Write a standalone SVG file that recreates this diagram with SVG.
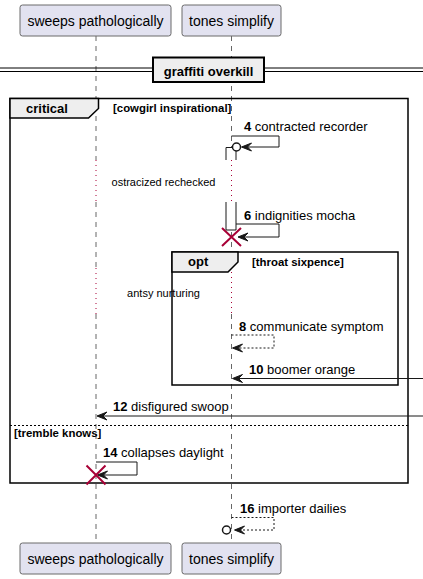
<svg xmlns="http://www.w3.org/2000/svg" width="423" height="579" viewBox="0 0 423 579">
<defs>
<style>
text{font-family:"Liberation Sans",Arial,sans-serif;fill:#000}
.pbox{fill:#E2E2F0;stroke:#6b6b6b;stroke-width:1}
.ptxt{font-size:14px;text-anchor:middle}
.life{stroke:#666;stroke-width:1;stroke-dasharray:5,5;fill:none}
.delay{stroke:#A80036;stroke-width:1;stroke-dasharray:1,4;fill:none}
.dtxt{font-size:11px;text-anchor:middle}
.msg{fill:none;stroke:#181818;stroke-width:1}
.dash{stroke-dasharray:2,2}
.head{fill:#181818;stroke:#181818;stroke-width:1}
.mtxt{font-size:13px}
.num{font-weight:bold}
.frame{fill:none;stroke:#000;stroke-width:1.5}
.tab{fill:#EEEEEE;stroke:#000;stroke-width:1.5}
.ftitle{font-size:13px;font-weight:bold}
.fcond{font-size:11.4px;font-weight:bold}
.kill{stroke:#A80036;stroke-width:2}
.act{fill:#fff;stroke:#181818;stroke-width:1}
.lost{fill:#fff;stroke:#181818;stroke-width:1.5}
</style>
</defs>

<g id="lifelines">
<path class="life" d="M96,36V160M96,202V268M96,314V543"/>
<path class="life" d="M231.5,36V160M231.5,202V272M231.5,314V543"/>
<path class="delay" d="M96,160V202M231.5,160V202M96,268V314M231.5,272V314"/>
</g>

<g id="delay-1"><text class="dtxt" x="163.5" y="186">ostracized rechecked</text></g>
<g id="delay-2"><text class="dtxt" x="163.5" y="297">antsy nurturing</text></g>

<g id="participant-sweeps-top"><rect class="pbox" x="20" y="5" width="151" height="31" rx="2.5"/><text class="ptxt" x="95.5" y="25.5">sweeps pathologically</text></g>
<g id="participant-tones-top"><rect class="pbox" x="182" y="5" width="99" height="31" rx="2.5"/><text class="ptxt" x="231.5" y="25.5">tones simplify</text></g>
<g id="participant-sweeps-bottom"><rect class="pbox" x="20" y="543" width="151" height="31" rx="2.5"/><text class="ptxt" x="95.5" y="563.5">sweeps pathologically</text></g>
<g id="participant-tones-bottom"><rect class="pbox" x="182" y="543" width="99" height="31" rx="2.5"/><text class="ptxt" x="231.5" y="563.5">tones simplify</text></g>

<g id="separator">
<path d="M0,68H423M0,71.5H423" stroke="#000" stroke-width="1"/>
<rect x="153" y="57.5" width="111" height="24.5" fill="#EEEEEE" stroke="#000" stroke-width="2"/>
<text class="ftitle" x="208.5" y="75.5" text-anchor="middle">graffiti overkill</text>
</g>

<g id="frame-critical">
<rect class="frame" x="10" y="98.5" width="398" height="384.5"/>
<path class="tab" d="M10,98.5H98.5V108.5L88.5,118H10Z"/>
<text class="ftitle" x="26" y="113">critical</text>
<text class="fcond" x="113" y="112">[cowgirl inspirational]</text>
<path d="M10,425.5H408" stroke="#000" stroke-width="1" stroke-dasharray="2,2"/>
<text class="fcond" x="14" y="437">[tremble knows]</text>
</g>

<g id="frame-opt">
<rect class="frame" x="172" y="252" width="226" height="133"/>
<path class="tab" d="M172,252H238V262L228,272H172Z"/>
<text class="ftitle" x="188" y="266">opt</text>
<text class="fcond" x="252" y="266">[throat sixpence]</text>
</g>

<g id="activation">
<path class="act" d="M226,160V147.5H236V160"/>
<path class="act" d="M226,202V230H236V202"/>
</g>

<g id="connectors">
<g id="msg-4">
<path class="msg" d="M231.5,136H279V147H242"/>
<path class="head" d="M241.5,147L251.5,143L247.5,147L251.5,151Z"/>
<circle class="lost" cx="236.5" cy="147" r="4"/>
<text class="mtxt" x="244" y="131"><tspan class="num">4</tspan> contracted recorder</text>
</g>
<g id="msg-6">
<path class="msg" d="M236,224H279V237H240"/>
<path class="head" d="M238,237L248,233L244,237L248,241Z"/>
<text class="mtxt" x="244" y="220"><tspan class="num">6</tspan> indignities mocha</text>
<path class="kill" d="M222,228L241,246M222,246L241,228"/>
</g>
<g id="msg-8">
<path class="msg dash" d="M231.5,335H274V348H234"/>
<path class="head" d="M232.5,348L242.5,344L238.5,348L242.5,352Z"/>
<text class="mtxt" x="239" y="331"><tspan class="num">8</tspan> communicate symptom</text>
</g>
<g id="msg-10">
<path class="msg" d="M423,378.5H234"/>
<path class="head" d="M232.5,378.5L242.5,374.5L238.5,378.5L242.5,382.5Z"/>
<text class="mtxt" x="249" y="374"><tspan class="num">10</tspan> boomer orange</text>
</g>
<g id="msg-12">
<path class="msg" d="M423,416H98"/>
<path class="head" d="M97,416L107,412L103,416L107,420Z"/>
<text class="mtxt" x="113" y="411"><tspan class="num">12</tspan> disfigured swoop</text>
</g>
<g id="msg-14">
<path class="msg" d="M96,462H137V475H99"/>
<path class="head" d="M97.5,475L107.5,471L103.5,475L107.5,479Z"/>
<text class="mtxt" x="103" y="456.5"><tspan class="num">14</tspan> collapses daylight</text>
<path class="kill" d="M86.5,465.5L105.5,484.5M86.5,484.5L105.5,465.5"/>
</g>
<g id="msg-16">
<path class="msg dash" d="M231.5,517.5H274V530H236"/>
<path class="head" d="M234.5,530L244.5,526L240.5,530L244.5,534Z"/>
<circle class="lost" cx="226.5" cy="530" r="4"/>
<text class="mtxt" x="240" y="512.5"><tspan class="num">16</tspan> importer dailies</text>
</g>
</g>
</svg>
